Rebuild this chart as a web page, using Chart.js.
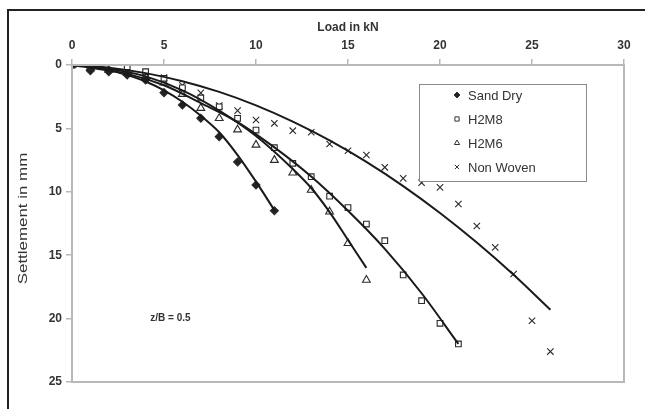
<!DOCTYPE html>
<html lang="en">
<head>
<meta charset="UTF-8">
<title>Load - Settlement</title>
<script src="https://cdn.jsdelivr.net/npm/chart.js"></script>
<style>
  body { margin: 0; background: #fff; }
  canvas { display: block; }
</style>
</head>
<body>
<canvas id="chart" width="645" height="409"></canvas>
<script>
// measured points (load in kN, settlement in mm)
const sandDryLoad = [0, 1, 2, 3, 4, 5, 6, 7, 8, 9, 10, 11];
const sandDry = [0, 0.45, 0.53, 0.79, 1.18, 2.18, 3.15, 4.2, 5.65, 7.65, 9.46, 11.49];

const h2m8Load = [0, 3, 4, 5, 6, 7, 8, 9, 10, 11, 12, 13, 14, 15, 16, 17, 18, 19, 20, 21];
const h2m8 = [0, 0.13, 0.53, 1.05, 1.8, 2.6, 3.3, 4.2, 5.13, 6.52, 7.75, 8.81, 10.35, 11.24, 12.54, 13.86, 16.56, 18.59, 20.37, 22.0];

const h2m6Load = [0, 1, 2, 3, 4, 5, 6, 7, 8, 9, 10, 11, 12, 13, 14, 15, 16];
const h2m6 = [0, 0.2, 0.4, 0.6, 0.9, 1.4, 2.3, 3.4, 4.2, 5.1, 6.3, 7.5, 8.5, 9.86, 11.57, 14.06, 16.96];

const nonWovenLoad = [0, 1, 2, 3, 4, 5, 6, 7, 8, 9, 10, 11, 12, 13, 14, 15, 16, 17, 18, 19, 20, 21, 22, 23, 24, 25, 26];
const nonWoven = [0, 0, 0.1, 0.3, 0.6, 1.0, 1.6, 2.2, 3.2, 3.6, 4.34, 4.6, 5.18, 5.3, 6.23, 6.76, 7.1, 8.07, 8.94, 9.28, 9.65, 10.96, 12.7, 14.38, 16.48, 20.17, 22.6];

// trend lines
const sandDryFitLoad = [0, 1, 2, 3, 4, 5, 6, 7, 8, 9, 10, 11];
const sandDryFit = [0, 0.15, 0.4, 0.8, 1.3, 2.0, 2.9, 4.0, 5.3, 7.1, 9.2, 11.45];
const h2m8FitLoad = [0, 3, 5, 7, 9, 11, 13, 15, 17, 19, 21];
const h2m8Fit = [0, 0.7, 1.6, 3.0, 4.5, 6.5, 8.8, 11.5, 14.5, 18.0, 22.0];
const h2m6FitLoad = [0, 2, 4, 6, 8, 10, 12, 13, 14, 15, 16];
const h2m6Fit = [0, 0.3, 0.9, 2.0, 3.6, 5.6, 8.2, 9.7, 11.6, 13.8, 16.0];
const nonWovenFitLoad = [0, 2, 4, 6, 8, 10, 12, 14, 16, 18, 20, 22, 24, 26];
const nonWovenFit = [0, 0.21, 0.64, 1.28, 2.12, 3.18, 4.46, 5.94, 7.64, 9.55, 11.67, 14.0, 16.54, 19.3];

const xTicks = [0, 5, 10, 15, 20, 25, 30];
const yTicks = [0, 5, 10, 15, 20, 25];

function pts(xs, ys) {
  return xs.map((x, i) => ({ x: x, y: ys[i] }));
}

const ink = '#1a1a1a';
const axisGrey = '#b8b8b8';
const fontFam = '"Liberation Sans", Arial, sans-serif';

function markers(label, data, style, fill, r) {
  return {
    label: label, data: data, showLine: false,
    pointStyle: style, pointRadius: r,
    pointBorderColor: '#2a2a2a', pointBackgroundColor: fill, pointBorderWidth: 1.1,
    legendMarker: true
  };
}
function trend(data) {
  return {
    label: 'trend', data: data, showLine: true, pointRadius: 0,
    borderColor: ink, borderWidth: 2, tension: 0.4,
    cubicInterpolationMode: 'monotone', fill: false
  };
}

// outer frame, plot box, legend, y title and note
const extras = {
  id: 'extras',
  beforeDraw(chart) {
    const c = chart.ctx;
    c.save();
    c.fillStyle = '#fff';
    c.fillRect(0, 0, chart.width, chart.height);
    c.strokeStyle = '#222';
    c.lineWidth = 2;
    c.beginPath();
    c.moveTo(8, chart.height);
    c.lineTo(8, 10);
    c.lineTo(chart.width, 10);
    c.stroke();
    c.restore();
  },
  afterDatasetsDraw(chart) {
    const c = chart.ctx;
    const a = chart.chartArea;
    c.save();
    c.strokeStyle = axisGrey;
    c.lineWidth = 2;
    c.strokeRect(a.left, a.top, a.right - a.left, a.bottom - a.top);

    // legend box
    const bx = 419, by = 84, bw = 167, bh = 97;
    c.fillStyle = '#fff';
    c.fillRect(bx, by, bw, bh);
    c.strokeStyle = '#8a8a8a';
    c.lineWidth = 1;
    c.strokeRect(bx + 0.5, by + 0.5, bw, bh);
    const items = chart.data.datasets.filter(d => d.legendMarker);
    c.font = '13px ' + fontFam;
    c.textBaseline = 'middle';
    items.forEach((d, i) => {
      const y = by + 11 + i * 24;
      c.fillStyle = d.pointBackgroundColor;
      c.strokeStyle = '#333';
      c.lineWidth = 1;
      Chart.helpers.drawPoint(c, { pointStyle: d.pointStyle, radius: 3, borderWidth: 1 }, 457, y);
      c.fillStyle = '#333';
      c.fillText(d.label, 468, y + 1);
    });

    // y axis title, a little stretched like the original
    c.save();
    c.translate(23, (a.top + a.bottom) / 2 - 5);
    c.rotate(-Math.PI / 2);
    c.scale(1.3, 1);
    c.font = '13px ' + fontFam;
    c.fillStyle = '#333';
    c.textAlign = 'center';
    c.fillText('Settlement in mm', 0, 0);
    c.restore();

    // note
    const xs = chart.scales.x, ys = chart.scales.y;
    c.font = 'bold 10px ' + fontFam;
    c.fillStyle = '#333';
    c.textAlign = 'center';
    c.fillText('z/B = 0.5', xs.getPixelForValue(5.35), ys.getPixelForValue(19.95));
    c.restore();
  }
};

new Chart(document.getElementById('chart').getContext('2d'), {
  type: 'scatter',
  data: {
    datasets: [
      trend(pts(sandDryFitLoad, sandDryFit)),
      trend(pts(h2m8FitLoad, h2m8Fit)),
      trend(pts(h2m6FitLoad, h2m6Fit)),
      trend(pts(nonWovenFitLoad, nonWovenFit)),
      markers('Sand Dry', pts(sandDryLoad, sandDry), 'rectRot', '#222', 4),
      markers('H2M8', pts(h2m8Load, h2m8), 'rect', '#fff', 4),
      markers('H2M6', pts(h2m6Load, h2m6), 'triangle', '#fff', 4.5),
      markers('Non Woven', pts(nonWovenLoad, nonWoven), 'crossRot', '#fff', 4.5)
    ]
  },
  options: {
    responsive: false,
    animation: false,
    layout: { padding: { left: 0, top: 0, right: 21, bottom: 27 } },
    plugins: { legend: { display: false }, tooltip: { enabled: false } },
    scales: {
      x: {
        type: 'linear', position: 'top', min: 0, max: 30,
        afterBuildTicks: s => { s.ticks = xTicks.map(v => ({ value: v })); },
        afterFit: s => { s.height = 65; },
        grid: { drawOnChartArea: false, color: axisGrey, tickLength: 6, lineWidth: 1.5 },
        border: { color: axisGrey, width: 2 },
        ticks: { color: '#333', padding: 6, maxRotation: 0,
          font: { family: fontFam, size: 12, weight: 'bold' } },
        title: { display: true, text: 'Load in kN', color: '#333', padding: { top: 20, bottom: 2 },
          font: { family: fontFam, size: 12, weight: 'bold' } }
      },
      y: {
        type: 'linear', reverse: true, min: 0, max: 25,
        afterBuildTicks: s => { s.ticks = yTicks.map(v => ({ value: v })); },
        afterFit: s => { s.width = 72; },
        grid: { drawOnChartArea: false, color: axisGrey, tickLength: 6, lineWidth: 1.5 },
        border: { color: axisGrey, width: 2 },
        ticks: { color: '#333', padding: 4,
          font: { family: fontFam, size: 12, weight: 'bold' } },
        title: { display: false }
      }
    }
  },
  plugins: [extras]
});
</script>
</body>
</html>
